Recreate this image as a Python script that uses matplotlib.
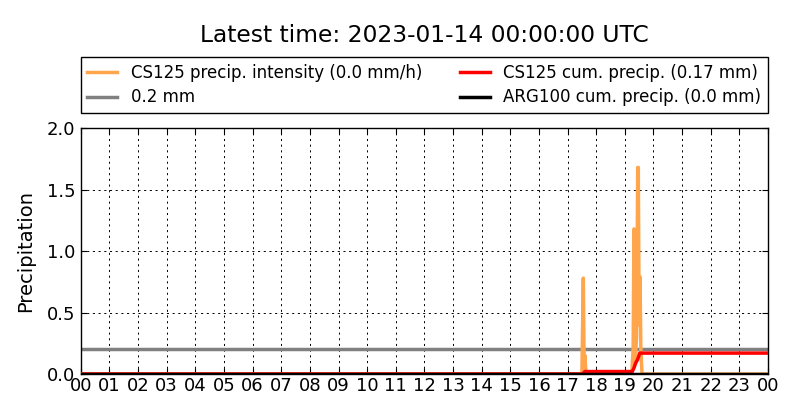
import matplotlib
matplotlib.use("Agg")
import matplotlib.pyplot as plt

plt.rcParams["lines.scale_dashes"] = False

# Data (hours of day, values in mm/h or mm)
intensity_t = [0.0, 17.50, 17.55, 17.58, 17.61, 17.64, 19.24, 19.29, 19.32, 19.36,
               19.41, 19.45, 19.47, 19.50, 19.53, 19.56, 19.60, 24.0]
intensity_v = [0.0, 0.0, 0.78, 0.05, 0.15, 0.0, 0.0, 0.2, 1.18, 0.1,
               0.3, 1.68, 1.68, 0.4, 0.79, 0.2, 0.0, 0.0]

cum_t = [0.0, 17.53, 17.60, 19.26, 19.32, 19.38, 19.45, 19.52, 19.58, 24.0]
cum_v = [0.0, 0.0, 0.02, 0.02, 0.05, 0.09, 0.12, 0.17, 0.17, 0.17]

arg_t = [0.0, 24.0]
arg_v = [0.0, 0.0]

threshold = 0.2

hour_ticks = list(range(25))
hour_labels = ["%02d" % (h % 24) for h in hour_ticks]

title = "Latest time: 2023-01-14 00:00:00 UTC"
labels = ["CS125 precip. intensity (0.0 mm/h)", "0.2 mm",
          "CS125 cum. precip. (0.17 mm)", "ARG100 cum. precip. (0.0 mm)"]

fig = plt.figure(figsize=(8, 4.2), dpi=100)
ax = fig.add_axes([0.101, 0.1095, 0.859, 0.5855])

l2 = ax.axhline(threshold, color="#808080", lw=2.5, zorder=2)
l1, = ax.plot(intensity_t, intensity_v, color="#ffa64d", lw=2.5, zorder=3)
l3, = ax.plot(cum_t, cum_v, color="#ff0000", lw=2.5, zorder=4)
l4, = ax.plot(arg_t, arg_v, color="#000000", lw=2.5, zorder=5)

ax.set_xlim(0, 24)
ax.set_ylim(0, 2.0)
ax.set_xticks(hour_ticks)
ax.set_xticklabels(hour_labels)
ax.set_yticks([0.0, 0.5, 1.0, 1.5, 2.0])
ax.set_yticklabels(["0.0", "0.5", "1.0", "1.5", "2.0"])
ax.tick_params(axis="both", direction="in", labelsize=13, length=4, top=True, right=True)
ax.tick_params(axis="y", pad=4)
ax.tick_params(axis="x", pad=2)
ax.grid(True, linestyle=(0, (1.5, 2.6)), color="black", lw=0.7)
ax.set_axisbelow(True)
ax.set_ylabel("Precipitation", fontsize=14, labelpad=8)
for s in ax.spines.values():
    s.set_linewidth(1.0)

fig.text(0.5306, 1 - 35 / 420, title, fontsize=16.8, ha="center", va="center")

leg = ax.legend([l1, l2, l3, l4], labels, ncol=2, loc="lower left",
                bbox_to_anchor=(0, 1.061, 1, 0.23), mode="expand", borderaxespad=0,
                fontsize=12, fancybox=False, framealpha=1, edgecolor="black",
                handlelength=1.8, columnspacing=1.0, labelspacing=0.4)
leg.get_frame().set_linewidth(1.0)

fig.savefig("out.png", dpi=100, facecolor="white")
